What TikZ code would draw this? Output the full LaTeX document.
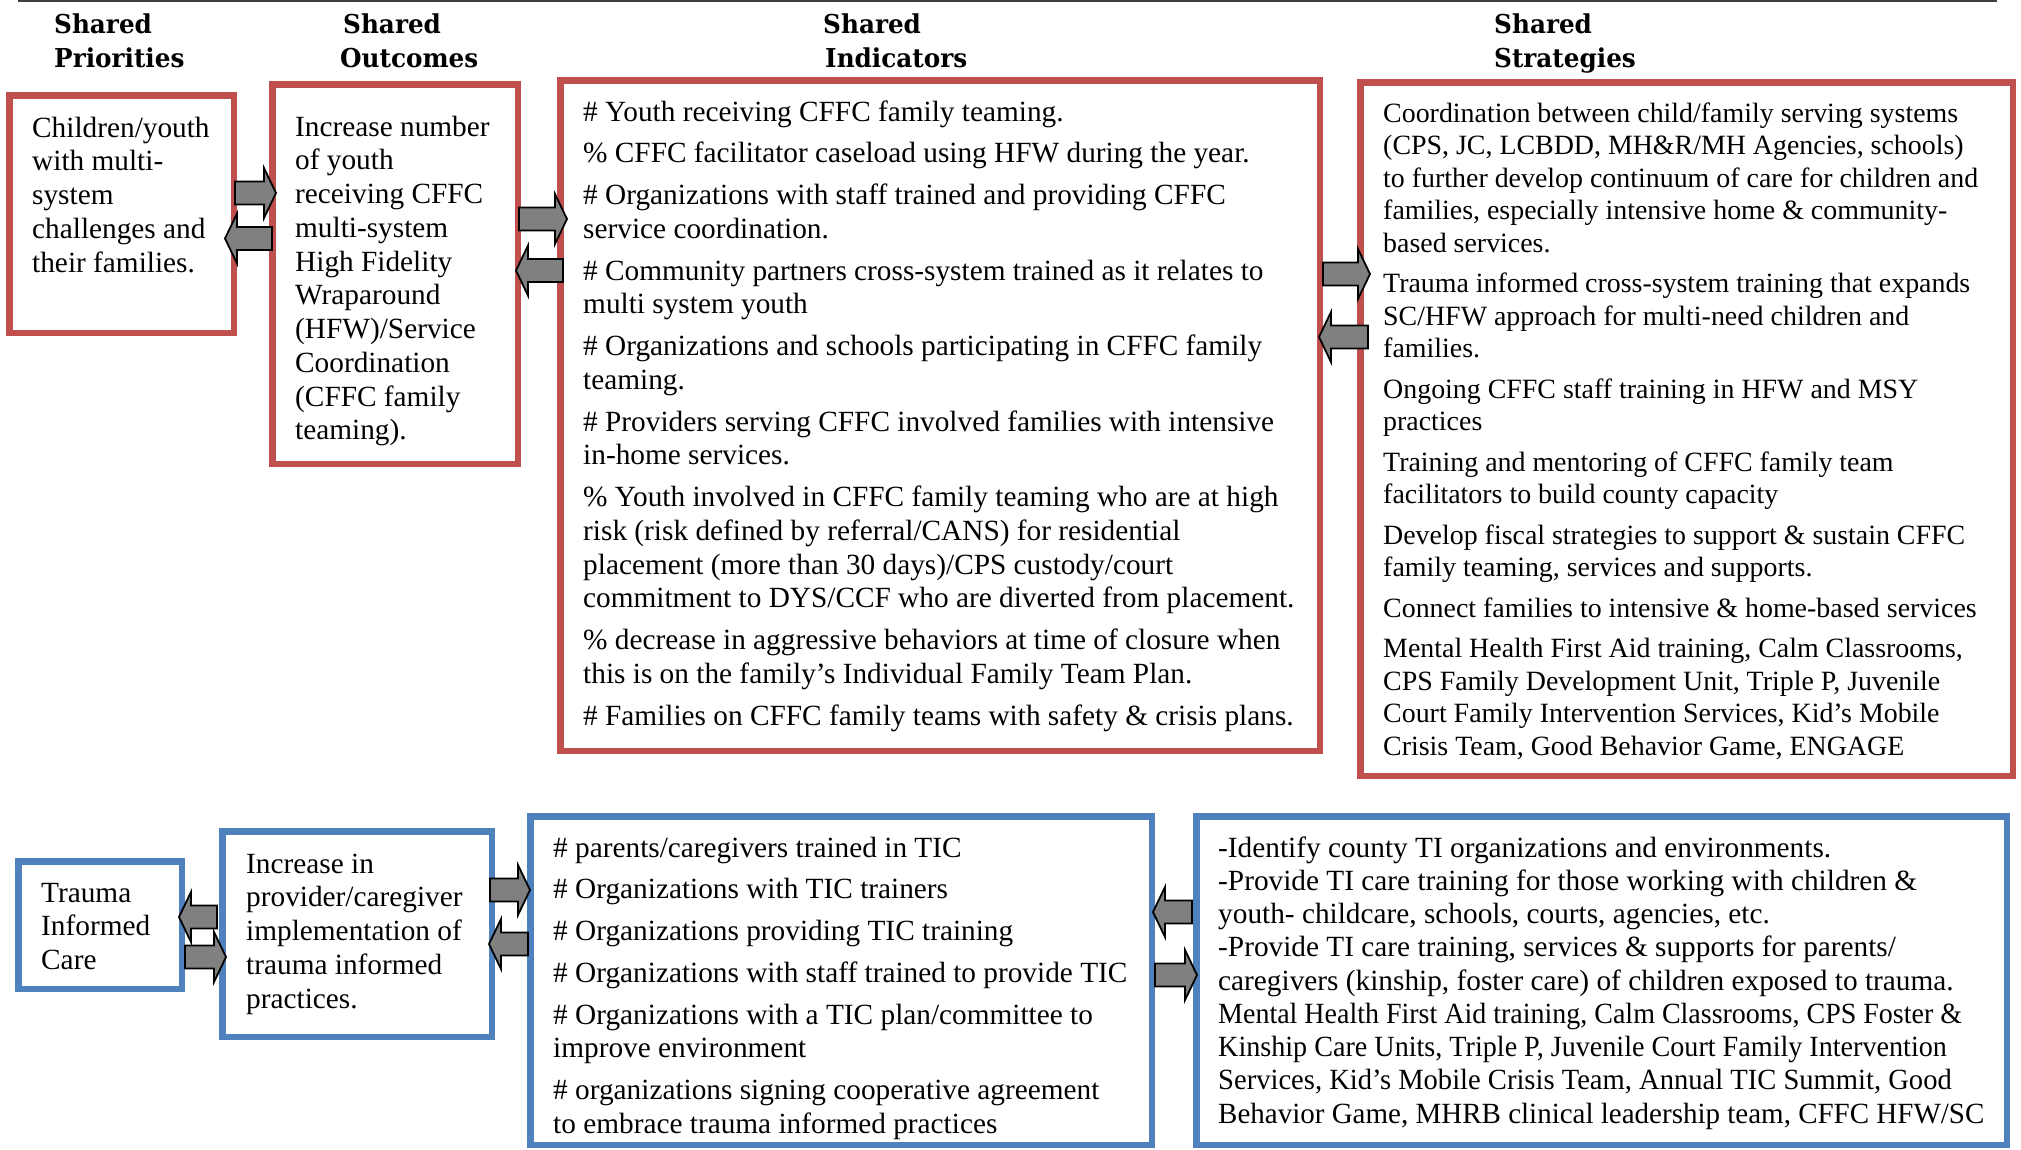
\documentclass[tikz,border=0pt]{standalone}
\usepackage{graphicx}
\usepackage{fontspec}
\setmainfont{Liberation Serif}
\newfontfamily\headfont[FakeStretch=0.95]{DejaVu Serif}
\usetikzlibrary{calc}
\definecolor{boxred}{HTML}{C0504D}
\definecolor{boxblue}{HTML}{4F81BD}
\definecolor{arrowgray}{HTML}{808080}
\definecolor{rulegray}{HTML}{404040}
\tikzset{
  boxbase/.style={draw, line width=6.5pt, inner sep=0pt, outer sep=3.25pt},
  redbox/.style={boxbase, draw=boxred},
  bluebox/.style={boxbase, draw=boxblue},
  bodytext/.style={inner sep=0pt, anchor=base west, font=\fontsize{29.3}{33.75}\selectfont},
  strattext/.style={inner sep=0pt, anchor=base west, font=\fontsize{27.9}{32.5}\selectfont},
  headtext/.style={inner sep=0pt, anchor=base west, font=\headfont\bfseries\fontsize{26}{34}\selectfont},
  barrow/.style={draw=black, fill=arrowgray, line width=1.8pt, line join=miter},
}
\newcommand\tline[1]{\hbox{#1}}
\newcommand\sqline[2]{\hbox{\scalebox{#1}[1]{#2}}}
\newcommand\pgap{\vskip 8pt}
% block arrow: #1 from-anchor, #2 x offset of tail, #3 to-anchor, #4 x offset of tip, #5 y (px from top)
\newcommand\barr[5]{%
  \draw[barrow] let \p1=(#1), \p2=(#3),
     \n1={\x1+(#2pt)}, \n2={\x2+(#4pt)}, \n3={-(#5)*1pt},
     \n4={(\n2-\n1)/abs(\n2-\n1)}, \n5={\n2-12pt*\n4}
   in ({\n1},{\n3+11.5pt}) -- ({\n5},{\n3+11.5pt}) -- ({\n5},{\n3+25pt})
      -- ({\n2},{\n3}) -- ({\n5},{\n3-25pt}) -- ({\n5},{\n3-11.5pt})
      -- ({\n1},{\n3-11.5pt}) -- cycle;}
\begin{document}
\begin{tikzpicture}[x=1pt,y=-1pt]
\useasboundingbox (0,0) rectangle (2021,1149);
\draw[rulegray, line width=2pt] (18,1) coordinate (rl) -- (1997,1) coordinate (rr);

% headers
\node[headtext] (h1) at (54,33) {\vtop{\tline{Shared}\tline{Priorities}}};
\node[headtext] (h2) at (340,33) {\vtop{\tline{\kern3pt Shared}\tline{Outcomes}}};
\node[headtext] (h3) at (823,33) {\vtop{\tline{Shared}\tline{\kern2pt Indicators}}};
\node[headtext] (h4) at (1494,33) {\vtop{\tline{Shared}\tline{Strategies}}};

% boxes
\node[redbox, minimum width=224.5pt, minimum height=237.5pt] (b1) at (121.5,214) {};
\node[redbox, minimum width=245.5pt, minimum height=379.5pt] (b2) at (395,274) {};
\node[redbox, minimum width=759.5pt, minimum height=670.5pt] (b3) at (940,415.5) {};
\node[redbox, minimum width=652.5pt, minimum height=693.5pt] (b4) at (1686.5,429) {};
\node[bluebox, minimum width=163.5pt, minimum height=127.5pt] (b5) at (100,925) {};
\node[bluebox, minimum width=269.5pt, minimum height=205.5pt] (b6) at (357,934) {};
\node[bluebox, minimum width=621.5pt, minimum height=328.5pt] (b7) at (841,980.5) {};
\node[bluebox, minimum width=810.5pt, minimum height=328.5pt] (b8) at (1601.5,980.5) {};

% texts
\node[bodytext] (t1) at (32,137) {\vtop{\tline{Children/youth}\tline{with multi-}\tline{system}\tline{challenges and}\tline{their families.}}};
\node[bodytext] (t2) at (295,136) {\vtop{\tline{Increase number}\tline{of youth}\tline{receiving CFFC}\tline{multi-system}\tline{High Fidelity}\tline{Wraparound}\tline{(HFW)/Service}\tline{Coordination}\tline{(CFFC family}\tline{teaming).}}};
\node[bodytext] (t3) at (583,121) {\vtop{%
  \tline{\# Youth receiving CFFC family teaming.}\pgap
  \tline{\% CFFC facilitator caseload using HFW during the year.}\pgap
  \tline{\# Organizations with staff trained and providing CFFC}\tline{service coordination.}\pgap
  \tline{\# Community partners cross-system trained as it relates to}\tline{multi system youth}\pgap
  \tline{\# Organizations and schools participating in CFFC family}\tline{teaming.}\pgap
  \tline{\# Providers serving CFFC involved families with intensive}\tline{in-home services.}\pgap
  \tline{\% Youth involved in CFFC family teaming who are at high}\tline{risk (risk defined by referral/CANS) for residential}\tline{placement (more than 30 days)/CPS custody/court}\tline{commitment to DYS/CCF who are diverted from placement.}\pgap
  \tline{\% decrease in aggressive behaviors at time of closure when}\tline{this is on the family’s Individual Family Team Plan.}\pgap
  \tline{\# Families on CFFC family teams with safety \& crisis plans.}}};
\node[strattext] (t4) at (1383,122) {\vtop{%
  \tline{Coordination between child/family serving systems}\tline{(CPS, JC, LCBDD, MH\&R/MH Agencies, schools)}\tline{to further develop continuum of care for children and}\tline{families, especially intensive home \& community-}\tline{based services.}\pgap
  \tline{Trauma informed cross-system training that expands}\tline{SC/HFW approach for multi-need children and}\tline{families.}\pgap
  \tline{Ongoing CFFC staff training in HFW and MSY}\tline{practices}\pgap
  \tline{Training and mentoring of CFFC family team}\tline{facilitators to build county capacity}\pgap
  \tline{Develop fiscal strategies to support \& sustain CFFC}\tline{family teaming, services and supports.}\pgap
  \tline{Connect families to intensive \& home-based services}\pgap
  \tline{Mental Health First Aid training, Calm Classrooms,}\tline{CPS Family Development Unit, Triple P, Juvenile}\tline{Court Family Intervention Services, Kid’s Mobile}\tline{Crisis Team, Good Behavior Game, ENGAGE}}};
\node[bodytext] (t5) at (41,902) {\vtop{\tline{Trauma}\tline{Informed}\tline{Care}}};
\node[bodytext] (t6) at (246,873) {\vtop{\tline{Increase in}\tline{provider/caregiver}\tline{implementation of}\tline{trauma informed}\tline{practices.}}};
\node[bodytext] (t7) at (553,857) {\vtop{%
  \tline{\# parents/caregivers trained in TIC}\pgap
  \tline{\# Organizations with TIC trainers}\pgap
  \tline{\# Organizations providing TIC training}\pgap
  \tline{\# Organizations with staff trained to provide TIC}\pgap
  \tline{\# Organizations with a TIC plan/committee to}\tline{improve environment}\pgap
  \tline{\# organizations signing cooperative agreement}\tline{to embrace trauma informed practices}}};
\node[bodytext, font=\fontsize{29.3}{33.25}\selectfont] (t8) at (1218,857) {\vtop{%
  \tline{-Identify county TI organizations and environments.}
  \tline{-Provide TI care training for those working with children \&}
  \tline{youth- childcare, schools, courts, agencies, etc.}
  \tline{-Provide TI care training, services \& supports for parents/}
  \tline{caregivers (kinship, foster care) of children exposed to trauma.}
  \sqline{0.955}{Mental Health First Aid training, Calm Classrooms, CPS Foster \&}
  \sqline{0.96}{Kinship Care Units, Triple P, Juvenile Court Family Intervention}
  \sqline{0.975}{Services, Kid’s Mobile Crisis Team, Annual TIC Summit, Good}
  \sqline{0.99}{Behavior Game, MHRB clinical leadership team, CFFC HFW/SC}}};

% block arrows
\barr{b1.east}{-2}{b2.west}{7}{193}
\barr{b2.west}{3}{b1.east}{-12}{238.5}
\barr{b2.east}{-2}{b3.west}{10}{219}
\barr{b3.west}{6}{b2.east}{-5}{270.5}
\barr{b3.east}{0}{b4.west}{13}{274}
\barr{b4.west}{11}{b3.east}{-4}{337}
\barr{b6.west}{-2}{b5.east}{-6}{917}
\barr{b5.east}{0}{b6.west}{7}{957}
\barr{b6.east}{-5}{b7.west}{3}{890}
\barr{b7.west}{1}{b6.east}{-6}{944}
\barr{b8.west}{-1}{b7.east}{-2}{912}
\barr{b7.east}{0}{b8.west}{4}{975}
\end{tikzpicture}
\end{document}
